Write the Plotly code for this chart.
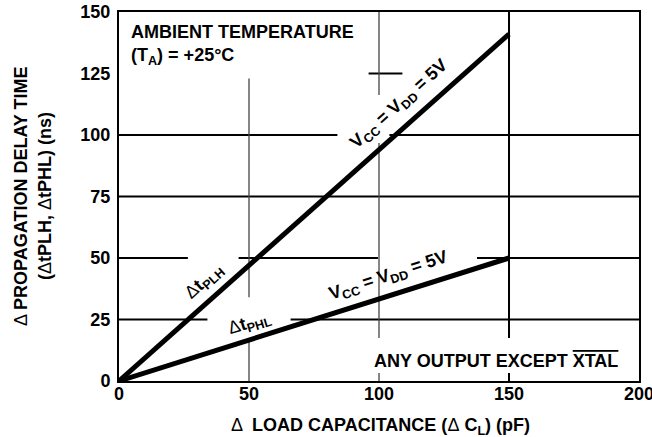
import plotly.graph_objects as go

# ---- data ----
cap_pf = [0, 50, 100, 150]          # delta load capacitance (pF)
tplh_ns = [0, 47, 94, 141]          # delta tPLH (ns)
tphl_ns = [0, 16.5, 33, 50]         # delta tPHL (ns)
x_ticks = [0, 50, 100, 150, 200]
y_ticks = [0, 25, 50, 75, 100, 125, 150]

FONT = "Liberation Sans"

fig = go.Figure()
fig.add_trace(go.Scatter(x=cap_pf, y=tplh_ns, mode="lines",
                         line=dict(color="black", width=5), showlegend=False))
fig.add_trace(go.Scatter(x=cap_pf, y=tphl_ns, mode="lines",
                         line=dict(color="black", width=5), showlegend=False))

# ---- broken grid segments (style of the reference) ----
h_black = [(25, 0, 34), (25, 66, 200),
           (50, 0, 26.5), (50, 46, 99.6), (50, 137.7, 200),
           (75, 0, 200),
           (100, 0, 84), (100, 104, 200),
           (125, 96, 109)]
v_gray = [(50, 0, 17.5), (50, 34, 123),
          (100, 0, 3.3), (100, 17.5, 96.7), (100, 116.3, 150)]
v_black = [(150, 0, 3.3), (150, 17.5, 150)]

shapes = []
for yv, x0, x1 in h_black:
    shapes.append(dict(type="line", xref="x", yref="y", x0=x0, x1=x1, y0=yv, y1=yv,
                       line=dict(color="black", width=2), layer="below"))
for xv, y0, y1 in v_gray:
    shapes.append(dict(type="line", xref="x", yref="y", x0=xv, x1=xv, y0=y0, y1=y1,
                       line=dict(color="#444444", width=1.3), layer="below"))
for xv, y0, y1 in v_black:
    shapes.append(dict(type="line", xref="x", yref="y", x0=xv, x1=xv, y0=y0, y1=y1,
                       line=dict(color="black", width=2), layer="below"))

f = dict(family=FONT, size=18, color="black")
C = dict(xanchor="center", yanchor="middle", showarrow=False, font=f)
ann = []
ann.append(dict(text="<b>AMBIENT TEMPERATURE</b>", xref="paper", yref="paper",
                x=0.019, y=0.9446, xanchor="left", yanchor="middle", showarrow=False, font=f))
ann.append(dict(text="<b>(T<sub>A</sub>) = +25°C</b>", xref="paper", yref="paper",
                x=0.019, y=0.8804, xanchor="left", yanchor="middle", showarrow=False, font=f))
ann.append(dict(text="<b>V<sub>CC</sub> = V<sub>DD</sub> = 5V</b>", x=108, y=112.2,
                textangle=-42, **C))
ann.append(dict(text="<b>V<sub>CC</sub> = V<sub>DD</sub> = 5V</b>", x=103.5, y=42.3,
                textangle=-18, **C))
ann.append(dict(text="Δ<b>t<sub>PLH</sub></b>", x=33, y=40.3, textangle=-42, **C))
ann.append(dict(text="Δ<b>t<sub>PHL</sub></b>", x=50.4, y=23.2, textangle=-17, **C))
ann.append(dict(text="<b>ANY OUTPUT EXCEPT <span style='text-decoration:overline'>XTAL</span></b>",
                x=145, y=8.2, **C))
# axis titles
ann.append(dict(text="Δ  <b>LOAD CAPACITANCE (</b>Δ<b> C<sub>L</sub>) (pF)</b>",
                xref="paper", yref="paper", x=0.502, y=-0.122, **C))
ann.append(dict(text="Δ <b>PROPAGATION DELAY TIME</b>", xref="paper", yref="paper",
                x=-0.1885, y=0.5014, textangle=-90, **C))
ann.append(dict(text="<b>(</b>Δ<b>tPLH, </b>Δ<b>tPHL) (ns)</b>", xref="paper", yref="paper",
                x=-0.1423, y=0.5014, textangle=-90, **C))

tickfont = dict(family=FONT, size=18, color="black", weight="bold")
fig.update_layout(
    width=652, height=437,
    margin=dict(l=119, r=13, t=12, b=56, pad=0, autoexpand=False),
    paper_bgcolor="white", plot_bgcolor="white",
    shapes=shapes, annotations=ann,
    xaxis=dict(range=[0, 200], tickvals=x_ticks, showgrid=False, zeroline=False,
               showline=True, mirror=True, linecolor="black", linewidth=2,
               ticks="", tickfont=tickfont, ticklabelstandoff=-5, automargin=False,
               ticklabeloverflow="allow", fixedrange=True),
    yaxis=dict(range=[0, 150], tickvals=y_ticks, showgrid=False, zeroline=False,
               showline=True, mirror=True, linecolor="black", linewidth=2,
               ticks="", tickfont=tickfont, ticklabelstandoff=3, automargin=False,
               ticklabeloverflow="allow", fixedrange=True),
)

fig.write_html("out.html", config={"displayModeBar": False},
               post_script="document.body.style.margin='0';")
